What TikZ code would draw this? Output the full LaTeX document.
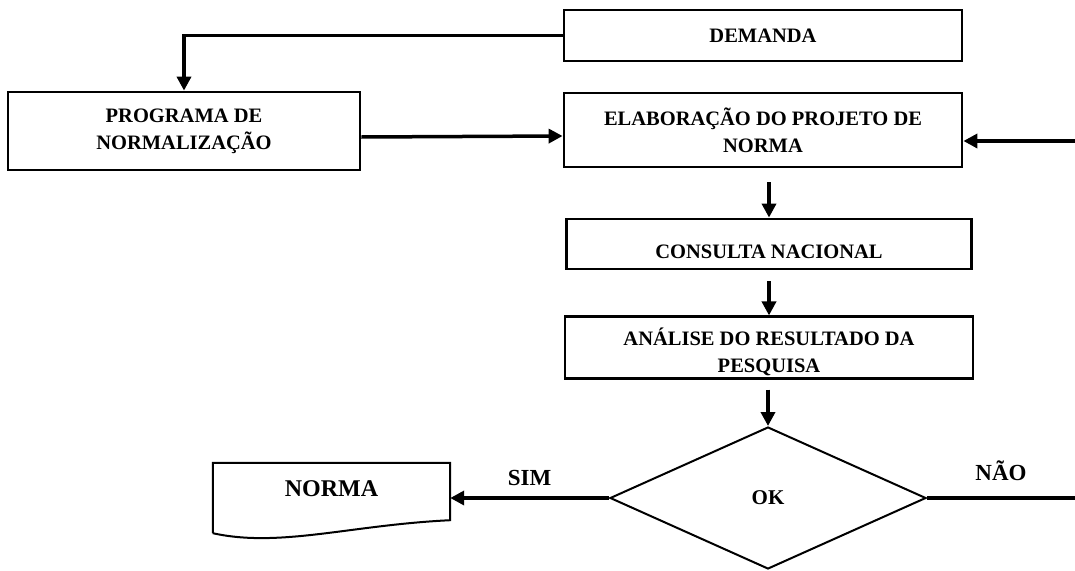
\documentclass[tikz,border=0pt]{standalone}
\usepackage{fontspec}
\setmainfont{Liberation Serif}
\usetikzlibrary{shapes.geometric,arrows.meta}
\tikzset{block/.style = {draw, fill=white, line width=2.8pt, rectangle, align=center, inner sep=2pt, font=\fontsize{20.5}{27}\selectfont\bfseries},
         decision/.style = {draw, fill=white, line width=2pt, diamond, minimum width=316pt, minimum height=142pt, inner sep=0pt, font=\fontsize{21}{24}\selectfont\bfseries},
         doc/.style = {rectangle, minimum width=237pt, minimum height=70pt, text depth=18pt, font=\fontsize{24}{28}\selectfont\bfseries},
         arr/.style = {line width=3.5pt, -{Triangle[length=14pt,width=14pt]}},
         lbl/.style = {font=\fontsize{23}{26}\selectfont\bfseries}}

\begin{document}
\begin{tikzpicture}[x=1pt,y=-1pt]
    \useasboundingbox (0,0) rectangle (1075,570);
    \node[block, minimum width=398pt, minimum height=51pt](demanda)at(763,35.5){DEMANDA};
    \node[block, minimum width=352pt, minimum height=78pt](programa)at(184,131){PROGRAMA DE\\NORMALIZAÇÃO};
    \node[block, minimum width=398pt, minimum height=74pt](elab)at(763,130){ELABORAÇÃO DO PROJETO DE\\NORMA};
    \node[block, minimum width=405pt, minimum height=50pt, text height=28pt, text depth=0pt](consulta)at(769,244){CONSULTA NACIONAL};
    \node[block, minimum width=408pt, minimum height=61pt](analise)at(769,347.5){\rule{0pt}{17pt}\\[-17pt]ANÁLISE DO RESULTADO DA\\PESQUISA};
    \node[decision](ok)at(768,498){OK};
    \node[doc](norma)at(331.5,498){NORMA};
    \draw[line width=2pt](norma.south west)--(norma.north west)--(norma.north east)--([yshift=13pt]norma.south east)
        .. controls (350,525) and (280,548) .. (norma.south west);
    \coordinate(retorno)at(1075,141);
    \coordinate(fim)at(1075,498);

    % fluxo principal
    \draw[arr](demanda.west)-|(programa.north);
    \draw[arr]([yshift=-6pt]programa.east)--([yshift=-6pt]elab.west);
    \draw[arr](retorno)--(retorno -| elab.east);
    \draw[arr, shorten <=14pt](consulta.north |- elab.south)--(consulta.north);
    \draw[arr, shorten <=11pt](consulta.south)--(analise.north);
    \draw[arr, shorten <=10pt](analise.south -| ok.north)--(ok.north);

    % decisao
    \draw[arr](ok.west)--(norma.east)node[lbl, midway, above=7pt]{SIM};
    \draw[line width=3.5pt](ok.east)--(fim)node[lbl, midway, above=12pt]{NÃO};
\end{tikzpicture}
\end{document}
